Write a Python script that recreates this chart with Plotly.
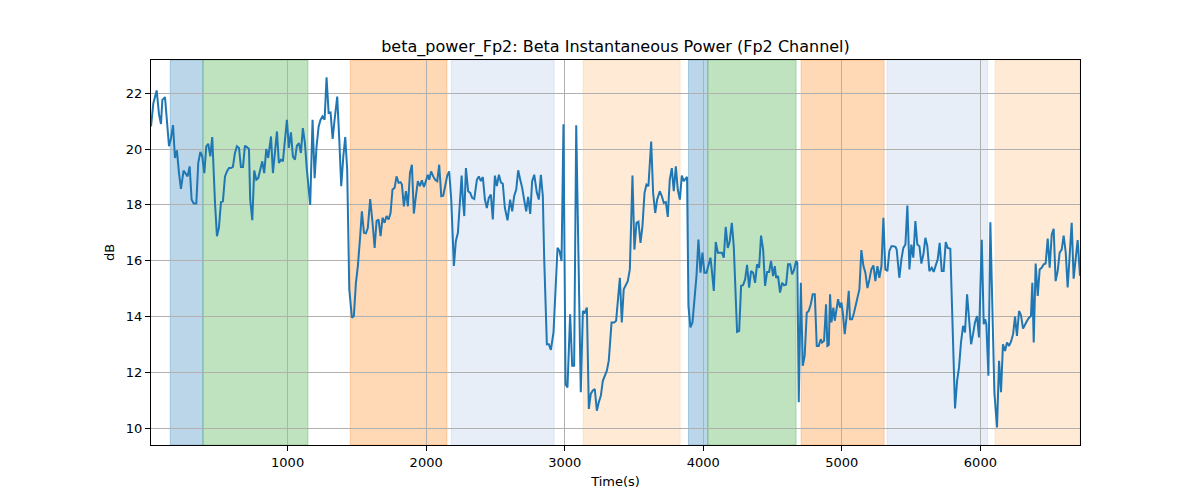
import plotly.graph_objects as go

time_s = [14, 31, 55, 72, 86, 96, 115, 127, 144, 156, 173, 187, 201, 216, 230, 249, 264, 278, 293, 307, 322, 341, 355, 370, 384, 399, 413, 427, 442, 456, 476, 490, 504, 519, 533, 548, 562, 577, 591, 605, 620, 634, 649, 663, 678, 692, 706, 721, 730, 745, 759, 774, 788, 803, 817, 831, 846, 860, 880, 894, 908, 923, 937, 952, 966, 981, 995, 1009, 1024, 1038, 1053, 1067, 1082, 1096, 1110, 1125, 1139, 1163,
          1180, 1195, 1209, 1224, 1238, 1252, 1267, 1281, 1296, 1310, 1325, 1339, 1358, 1373, 1387, 1402, 1416, 1430, 1445, 1464, 1478, 1493, 1507, 1522, 1536, 1551, 1565, 1579, 1596, 1613, 1628, 1642, 1656, 1671, 1685, 1700, 1714, 1729, 1743, 1757, 1772, 1786, 1801, 1815, 1825, 1839, 1854, 1868, 1883, 1897, 1911, 1926, 1940, 1955, 1969, 1984, 1998, 2012, 2022, 2036, 2051, 2065, 2080, 2094, 2109, 2123, 2137, 2152, 2166, 2181, 2200, 2214, 2229, 2243, 2256,
          2265, 2275, 2287, 2303, 2318, 2332, 2347, 2366, 2380, 2395, 2409, 2424, 2438, 2452, 2467, 2481, 2496, 2510, 2525, 2539, 2553, 2568, 2587, 2606, 2621, 2635, 2650, 2664, 2679, 2693, 2707, 2722, 2736, 2751, 2765, 2780, 2799, 2813, 2828, 2842, 2852, 2861, 2871, 2885, 2900, 2919, 2933, 2948, 2962, 2977, 2991, 3006, 3020, 3039, 3054, 3068, 3083, 3116, 3131, 3145, 3160, 3174, 3188, 3203, 3217, 3232, 3246, 3261, 3275, 3289, 3304, 3318, 3338, 3357, 3371,
          3398, 3412, 3426, 3441, 3455, 3470, 3489, 3503, 3518, 3532, 3547, 3561, 3576, 3590, 3604, 3624, 3638, 3653, 3667, 3686, 3701, 3715, 3730, 3744, 3758, 3773, 3787, 3802, 3816, 3831, 3845, 3859, 3869, 3883, 3893, 3907, 3922, 3936, 3951, 3965, 3980, 3994, 4008, 4023, 4037, 4052, 4061, 4076, 4090, 4105, 4119, 4134, 4148, 4162, 4177, 4191, 4206, 4220, 4244, 4259, 4273, 4287, 4302, 4316, 4331, 4345, 4360, 4374, 4388, 4403, 4417, 4432, 4446, 4461, 4475, 4489, 4504,
          4516, 4526, 4540, 4554, 4569, 4583, 4598, 4612, 4627, 4641, 4655, 4670, 4679, 4689, 4704, 4718, 4732, 4747, 4761, 4776, 4790, 4805, 4819, 4833, 4848, 4857, 4872, 4886, 4896, 4906, 4915, 4925, 4939, 4949, 4958, 4973, 4987, 4997, 5007, 5021, 5035, 5050, 5059, 5074, 5088, 5103, 5117, 5127, 5141, 5156, 5170, 5185, 5199, 5213, 5228, 5242, 5257, 5271, 5286, 5300, 5314, 5329, 5343, 5358, 5372, 5387, 5396, 5415, 5430, 5444, 5459, 5473, 5488, 5502, 5516, 5531, 5545, 5560, 5574, 5589, 5603, 5617, 5632,
          5649, 5663, 5678, 5692, 5706, 5721, 5735, 5750, 5764, 5783, 5817, 5832, 5846, 5860, 5875, 5889, 5904, 5918, 5933, 5947, 5961, 5976, 5990, 6010, 6024, 6034, 6043, 6058, 6072, 6101, 6120, 6135, 6149, 6163, 6178, 6192, 6207, 6221, 6236, 6250, 6264, 6279, 6293, 6308, 6322, 6337, 6351, 6365, 6375, 6385, 6399, 6414, 6428, 6442, 6457, 6471, 6486, 6500, 6515, 6529, 6543, 6558, 6572, 6587, 6601, 6616, 6630, 6644, 6659, 6673, 6688, 6702, 6719]

power_db = [20.81, 21.64, 22.10, 21.23, 20.90, 21.76, 21.86, 21.05, 20.10, 20.33, 20.86, 19.68, 19.95, 19.14, 18.57, 19.23, 19.14, 19.02, 19.38, 18.19, 18.05, 18.05, 19.50, 19.90, 19.74, 19.14, 20.10, 20.19, 19.74, 20.43, 18.07, 16.88, 17.18, 18.10, 18.13, 19.02, 19.20, 19.32, 19.32, 19.36, 19.86, 20.10, 20.04, 19.36, 19.36, 20.12, 20.07, 20.00, 18.19, 17.45, 19.23, 18.90, 18.96, 19.26, 19.56, 19.14, 20.00, 19.68, 20.45, 19.14, 19.86, 20.63, 19.50, 19.62, 19.56, 20.45, 21.05, 20.04, 20.60, 19.74, 19.62, 20.12, 20.21, 19.86, 20.75, 20.21, 19.26, 18.00,
            21.05, 18.96, 20.10, 20.81, 21.05, 21.17, 21.05, 22.57, 21.29, 21.31, 20.36, 21.05, 21.88, 20.33, 18.67, 19.74, 20.43, 19.26, 14.98, 13.96, 14.02, 15.21, 15.81, 16.76, 17.77, 17.00, 16.98, 17.18, 18.21, 17.36, 16.46, 17.42, 17.48, 16.88, 17.54, 17.36, 17.60, 17.48, 17.71, 18.55, 18.61, 19.02, 18.79, 18.81, 18.73, 17.95, 18.49, 17.95, 19.14, 19.44, 17.69, 18.31, 18.85, 18.67, 18.88, 18.64, 18.85, 19.08, 18.90, 19.20, 19.02, 18.90, 18.85, 19.44, 18.31, 18.33, 18.67, 19.05, 19.20, 18.19, 15.81, 16.70, 17.00, 18.07, 19.05,
            18.19, 17.60, 19.32, 18.49, 18.43, 18.25, 18.21, 18.90, 19.02, 18.85, 19.00, 18.19, 17.89, 18.25, 18.37, 17.48, 19.05, 18.67, 19.08, 18.81, 18.76, 17.89, 17.45, 18.19, 17.77, 18.31, 18.55, 19.24, 18.90, 18.61, 18.19, 17.77, 18.29, 17.68, 18.85, 19.08, 18.43, 18.19, 19.08, 18.31, 16.05, 14.14, 13.01, 13.01, 12.81, 13.43, 14.86, 16.46, 16.35, 15.99, 20.89, 11.58, 11.46, 14.08, 12.24, 12.24, 20.85, 11.29, 14.20, 14.14, 14.32, 10.69, 11.23, 11.35, 11.40, 10.63, 10.93, 11.17, 11.70, 11.90, 12.06, 12.42, 13.79, 13.79, 13.85,
            15.39, 13.79, 14.98, 15.15, 15.27, 15.69, 19.05, 16.40, 17.36, 17.40, 16.64, 17.24, 18.43, 18.73, 18.67, 20.27, 18.43, 17.71, 18.19, 18.49, 18.31, 18.07, 18.10, 17.57, 18.90, 19.32, 18.49, 19.38, 18.55, 18.19, 19.05, 18.85, 18.93, 19.00, 14.38, 13.61, 13.79, 14.62, 15.45, 16.76, 15.57, 16.29, 15.57, 15.57, 15.81, 16.11, 15.69, 14.92, 16.67, 16.29, 16.29, 16.29, 16.11, 17.21, 16.46, 16.70, 17.36, 16.52, 13.45, 13.49, 15.10, 15.12, 15.33, 15.85, 15.04, 15.63, 15.57, 15.21, 15.87, 15.75, 16.90, 16.40, 15.10, 15.60, 15.60, 15.99, 15.45,
            15.81, 15.39, 15.45, 14.86, 15.21, 15.12, 15.15, 15.87, 15.87, 15.51, 15.67, 15.99, 15.93, 10.93, 15.21, 12.24, 12.60, 14.14, 14.20, 14.44, 14.80, 14.80, 12.95, 12.95, 13.19, 13.07, 13.13, 14.44, 12.95, 12.98, 14.80, 13.79, 14.32, 13.85, 14.14, 14.62, 14.32, 14.50, 14.14, 13.37, 14.02, 14.92, 13.90, 13.90, 14.14, 14.50, 14.80, 14.98, 16.38, 15.81, 15.57, 15.02, 15.33, 15.69, 15.83, 15.27, 15.81, 15.39, 15.81, 17.54, 15.69, 15.63, 16.35, 16.52, 16.52, 16.50, 16.40, 15.39, 16.05, 16.46, 16.58, 17.98, 15.69, 16.58, 16.11, 17.42, 16.58, 16.52, 15.90, 16.23, 16.82, 16.52, 15.63,
            15.75, 15.60, 15.87, 16.05, 16.64, 15.63, 15.63, 16.67, 16.46, 16.43, 10.71, 11.70, 12.18, 13.07, 13.67, 13.43, 14.80, 14.02, 13.01, 13.37, 13.79, 14.02, 13.25, 16.75, 13.73, 13.90, 13.73, 11.88, 17.38, 11.29, 10.03, 12.42, 11.29, 13.01, 12.77, 13.07, 12.95, 13.10, 13.37, 14.00, 13.31, 14.20, 14.05, 13.57, 13.73, 13.85, 13.96, 14.02, 15.21, 13.07, 15.90, 14.74, 15.69, 15.75, 15.87, 15.90, 16.79, 15.75, 16.94, 17.14, 15.27, 15.63, 16.29, 16.40, 16.90, 16.29, 15.04, 16.17, 17.36, 15.36, 16.17, 16.74, 15.46]

span_start = [153, 389, 1452, 2181, 3133, 3893, 4033, 4706, 5326, 6106]
span_end = [389, 1147, 2150, 2924, 3833, 4033, 4670, 5305, 6053, 6719]
span_color = ["31,119,180", "44,160,44", "255,127,14", "174,199,232", "255,187,120",
              "31,119,180", "44,160,44", "255,127,14", "174,199,232", "255,187,120"]

x_ticks = [1000, 2000, 3000, 4000, 5000, 6000]
y_ticks = [10, 12, 14, 16, 18, 20, 22]

fig = go.Figure()

for s, e, c in zip(span_start, span_end, span_color):
    fig.add_vrect(x0=s, x1=e, fillcolor=f"rgba({c},0.3)", line=dict(color=f"rgba({c},0.3)", width=1),
                  layer="below")

fig.add_trace(go.Scatter(x=time_s, y=power_db, mode="lines",
                         line=dict(color="#1f77b4", width=2), showlegend=False))

axis_common = dict(showline=True, linecolor="black", linewidth=1, mirror=True,
                   ticks="outside", ticklen=5, tickwidth=1, tickcolor="black",
                   showgrid=True, gridcolor="#b0b0b0", gridwidth=1, zeroline=False,
                   tickfont=dict(family="DejaVu Sans", size=13, color="black"))

fig.update_xaxes(range=[14, 6719], tickvals=x_ticks, ticktext=[str(v) for v in x_ticks],
                 title=dict(text="Time(s)", font=dict(family="DejaVu Sans", size=13, color="black"), standoff=8),
                 **axis_common)
fig.update_yaxes(range=[9.40, 23.19], tickvals=y_ticks, ticktext=[str(v) for v in y_ticks],
                 title=dict(text="dB", font=dict(family="DejaVu Sans", size=13, color="black"), standoff=8),
                 **axis_common)

fig.update_layout(
    width=1200, height=500,
    margin=dict(l=143, r=128, t=52, b=63),
    plot_bgcolor="white", paper_bgcolor="white",
    title=dict(text="beta_power_Fp2: Beta Instantaneous Power (Fp2 Channel)",
               font=dict(family="DejaVu Sans", size=16, color="black"),
               x=0.5, xref="paper", xanchor="center", y=1 - 38 / 500, yref="container", yanchor="middle"),
)

fig.write_html("out.html")
